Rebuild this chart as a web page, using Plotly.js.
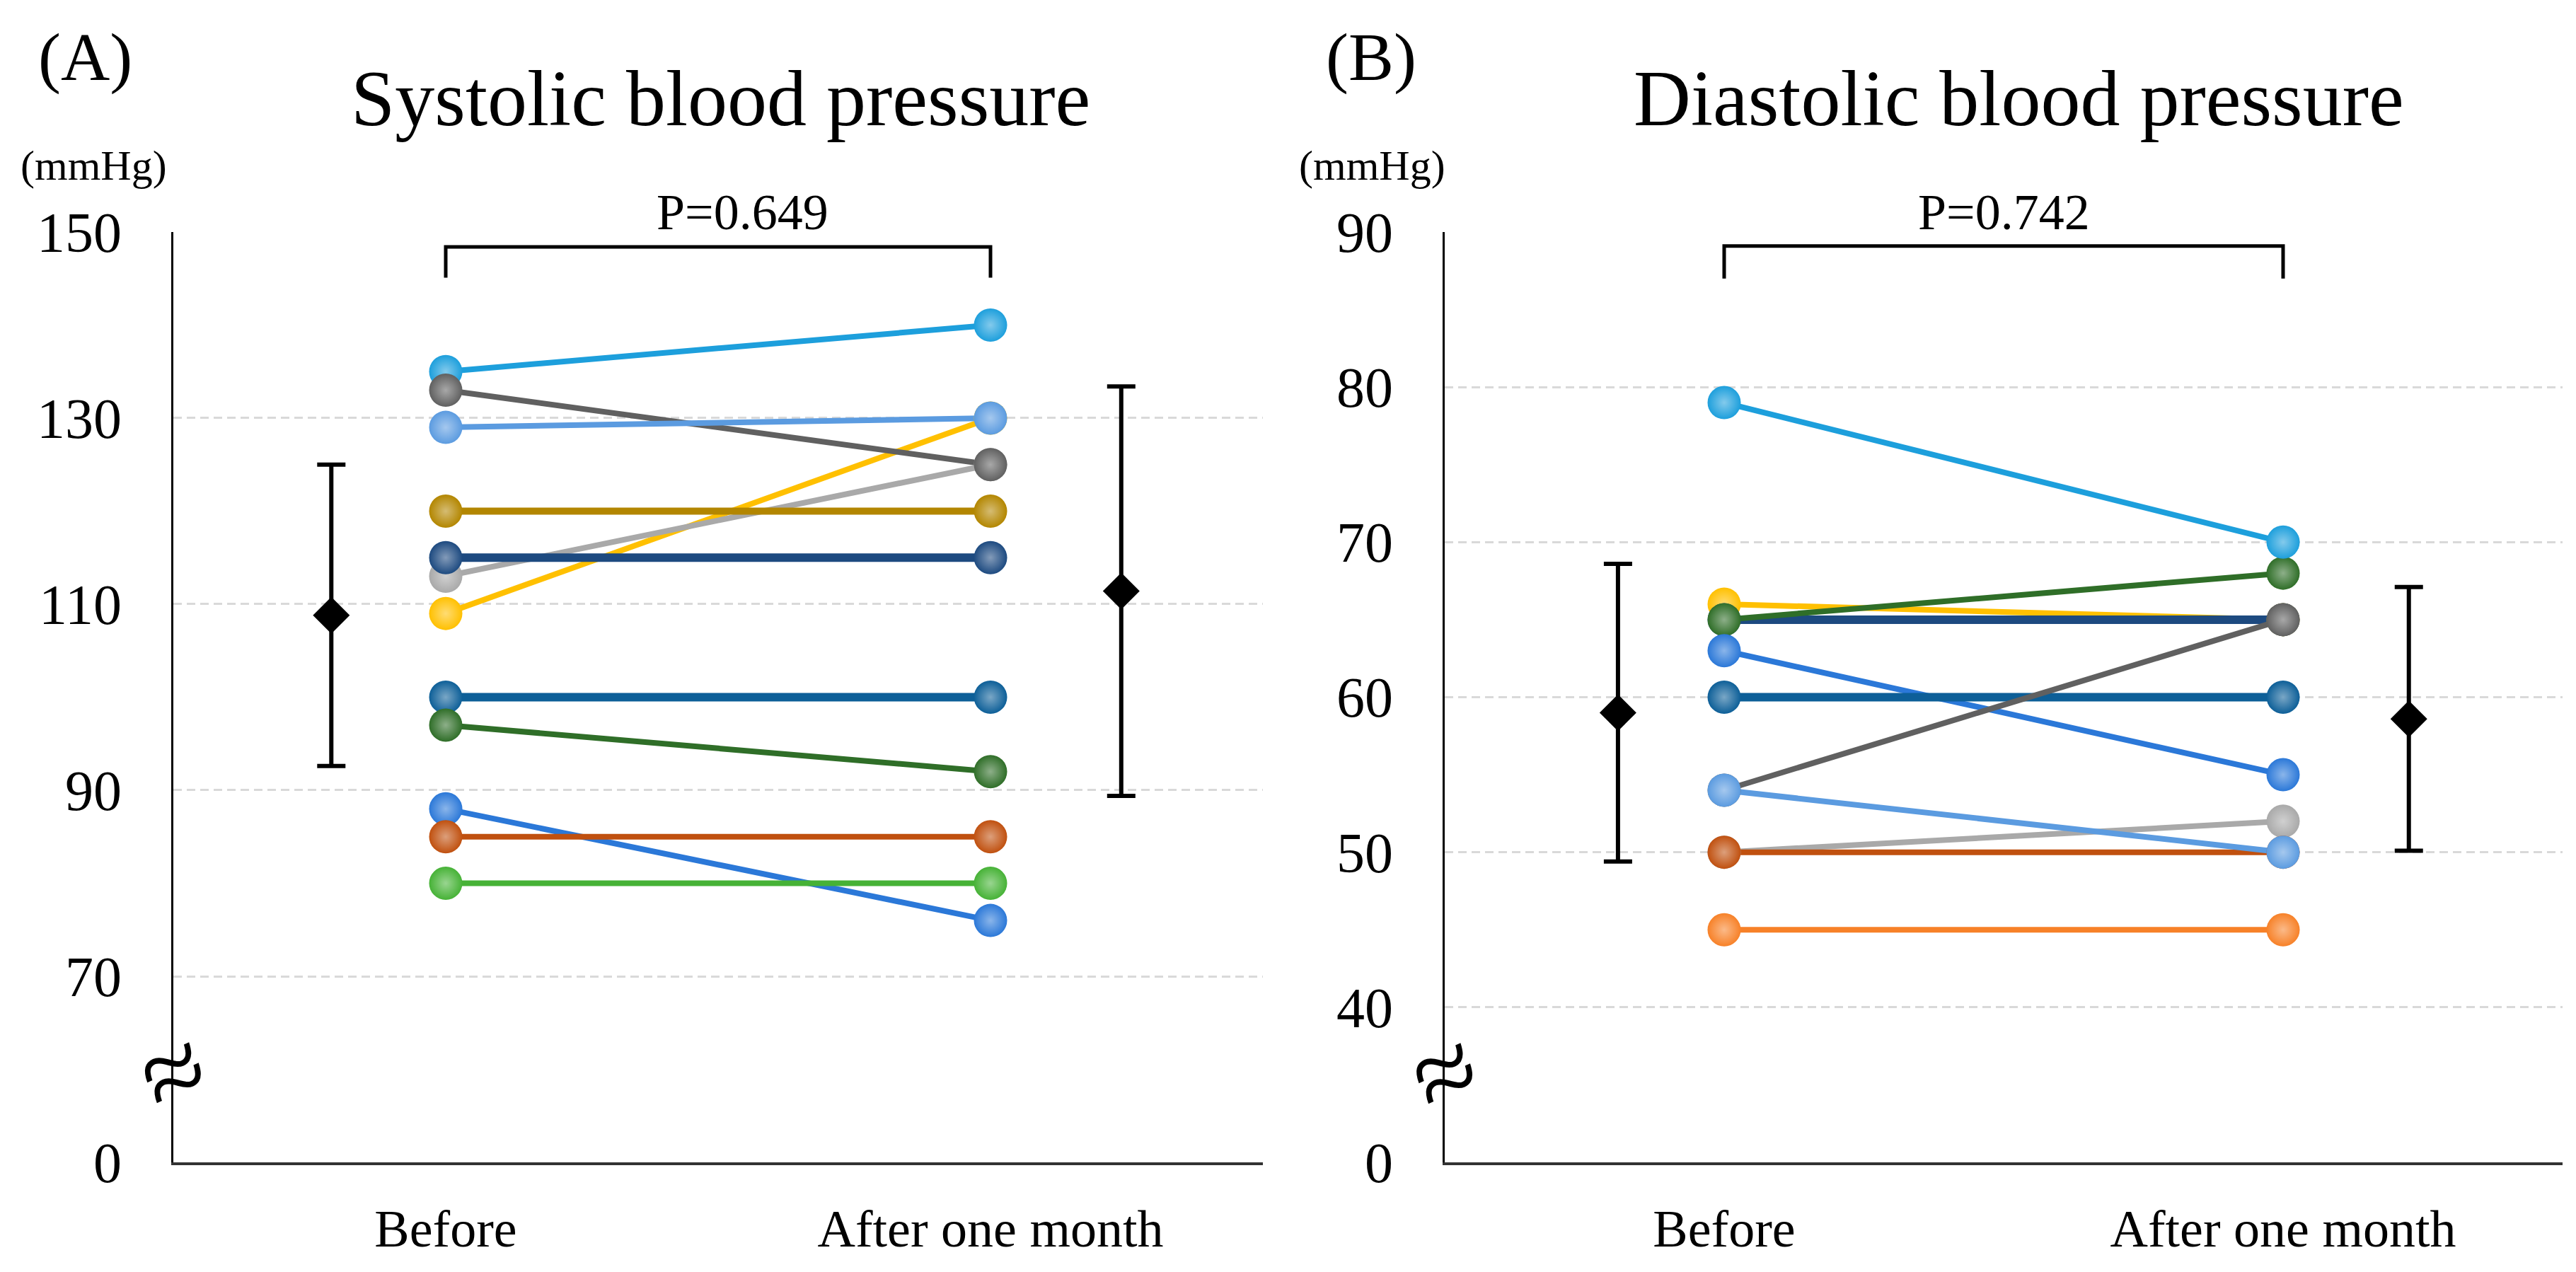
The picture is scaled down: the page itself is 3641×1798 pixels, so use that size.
<!DOCTYPE html>
<html>
<head>
<meta charset="utf-8">
<script src="https://cdn.plot.ly/plotly-3.0.1.min.js"></script>
<style>html,body{margin:0;padding:0;background:#fff;}#chart{width:3641px;height:1798px;}</style>
</head>
<body>
<div id="chart"></div>
<script>
// ---------- DATA ----------
const categories = ['Before', 'After one month'];

// Systolic blood pressure (mmHg), one entry per subject
const sbpSubjects = ['cyan','yellow','lightgray','darkgray','midblue','gold','navy','teal','darkgreen','blue','brown','green'];
const sbpBefore = [135, 109, 113, 133, 129, 120, 115, 100, 97, 88, 85, 80];
const sbpAfter  = [140, 130, 125, 125, 130, 120, 115, 100, 92, 76, 85, 80];
const sbpMean = [108.8, 111.4];
const sbpSD   = [16.2, 22.0];
const sbpP = 'P=0.649';
const sbpTicks = [150, 130, 110, 90, 70, 0];

// Diastolic blood pressure (mmHg)
const dbpSubjects = ['yellow','navy','darkgreen','cyan','blue','teal','lightgray','brown','darkgray','midblue','orange'];
const dbpBefore = [66, 65, 65, 79, 63, 60, 50, 50, 54, 54, 45];
const dbpAfter  = [65, 65, 68, 70, 55, 60, 52, 50, 65, 50, 45];
const dbpMean = [59.0, 58.6];
const dbpSD   = [9.6, 8.5];
const dbpP = 'P=0.742';
const dbpTicks = [90, 80, 70, 60, 50, 40, 0];

// ---------- STYLE ----------
const palette = {
  cyan: '#1d9fdc', yellow: '#ffc000', lightgray: '#a9a9a9', darkgray: '#606060',
  midblue: '#5b9be0', gold: '#b38600', navy: '#1d4a80', teal: '#0d5f98',
  darkgreen: '#2f6e28', blue: '#2b78d8', brown: '#c0500f', green: '#46b236', orange: '#f78128'
};
const widths = {navy: 12, teal: 12, gold: 10};
const FONT = 'Liberation Serif, Times New Roman, serif';
const catX = [1, 2];
const panels = [
  {subj: sbpSubjects, b: sbpBefore, a: sbpAfter, mean: sbpMean, sd: sbpSD, p: sbpP, ticks: sbpTicks,
   axisBottom: 50, axisTop: 150, ex: [0.79, 2.24], pX: 1.545, br: [145.1, 148.4], brk: 59.7,
   xa: 'x', ya: 'y', title: 'Systolic blood pressure', tag: '(A)'},
  {subj: dbpSubjects, b: dbpBefore, a: dbpAfter, mean: dbpMean, sd: dbpSD, p: dbpP, ticks: dbpTicks,
   axisBottom: 30, axisTop: 90, ex: [0.81, 2.225], pX: 1.5, br: [87.0, 89.1], brk: 35.8,
   xa: 'x2', ya: 'y2', title: 'Diastolic blood pressure', tag: '(B)'}
];

function lighten(hex, f) {
  const n = parseInt(hex.slice(1), 16);
  let r = (n >> 16) & 255, g = (n >> 8) & 255, b = n & 255;
  r = Math.round(r + (255 - r) * f); g = Math.round(g + (255 - g) * f); b = Math.round(b + (255 - b) * f);
  return 'rgb(' + r + ',' + g + ',' + b + ')';
}

const traces = [];
const annotations = [];
panels.forEach(P => {
  // lines first
  P.subj.forEach((s, i) => {
    traces.push({type: 'scatter', mode: 'lines', x: catX, y: [P.b[i], P.a[i]], xaxis: P.xa, yaxis: P.ya,
      line: {color: palette[s], width: widths[s] || 8}, hoverinfo: 'skip', showlegend: false});
  });
  // markers on top
  P.subj.forEach((s, i) => {
    traces.push({type: 'scatter', mode: 'markers', x: catX, y: [P.b[i], P.a[i]], xaxis: P.xa, yaxis: P.ya,
      marker: {color: palette[s], size: 47, line: {width: 0}, gradient: {type: 'radial', color: lighten(palette[s], 0.45)}},
      showlegend: false});
  });
  // mean ± SD
  traces.push({type: 'scatter', mode: 'markers', x: P.ex, y: P.mean, xaxis: P.xa, yaxis: P.ya,
    marker: {symbol: 'diamond', size: 40, color: '#000'},
    error_y: {type: 'data', array: P.sd, visible: true, color: '#000', thickness: 6, width: 20},
    showlegend: false});
  // bracket
  traces.push({type: 'scatter', mode: 'lines', x: [catX[0], catX[0], catX[1], catX[1]], y: [P.br[0], P.br[1], P.br[1], P.br[0]],
    xaxis: P.xa, yaxis: P.ya, line: {color: '#000', width: 5}, hoverinfo: 'skip', showlegend: false});
  // p value
  annotations.push({xref: P.xa, yref: P.ya, x: P.pX, y: P.axisTop, text: P.p, showarrow: false,
    yanchor: 'bottom', yshift: -14, font: {family: FONT, size: 72, color: '#000'}});
  // axis break
  annotations.push({xref: P.xa, yref: P.ya, x: 0.5, y: P.brk, text: '≈', showarrow: false, textangle: -25,
    font: {family: FONT, size: 160, color: '#000'}, xanchor: 'center', yanchor: 'middle'});
});

// titles / tags / units
const titleX = [1018 / 3641, 2853 / 3641];
const tagX = [52 / 3641, 1872 / 3641];
const unitX = [27 / 3641, 1834 / 3641];
panels.forEach((P, k) => {
  annotations.push({xref: 'paper', yref: 'paper', x: titleX[k], y: 0.9227, text: P.title, showarrow: false,
    xanchor: 'center', yanchor: 'middle', font: {family: FONT, size: 112, color: '#000'}});
  annotations.push({xref: 'paper', yref: 'paper', x: tagX[k], y: 0.9552, text: P.tag, showarrow: false,
    xanchor: 'left', yanchor: 'middle', font: {family: FONT, size: 96, color: '#000'}});
  annotations.push({xref: 'paper', yref: 'paper', x: unitX[k], y: 0.8699, text: '(mmHg)', showarrow: false,
    xanchor: 'left', yanchor: 'middle', font: {family: FONT, size: 60, color: '#000'}});
});

function tickPos(P) {
  // the lowest label (0) sits at the bottom of the broken axis
  return P.ticks.map((t, i) => i === P.ticks.length - 1 ? P.axisBottom : t);
}

function xAxis(domain, anchor) {
  return {domain: domain, anchor: anchor, range: [0.5, 2.5], tickvals: catX, ticktext: categories,
    showline: true, linecolor: '#333', linewidth: 4, showgrid: false, zeroline: false, ticks: '',
    ticklabelstandoff: 26, tickfont: {family: FONT, size: 74, color: '#000'}, fixedrange: true};
}
function yAxis(P, anchor) {
  return {domain: [0.0862, 0.8176], anchor: anchor, range: [P.axisBottom, P.axisTop],
    tickvals: tickPos(P), ticktext: P.ticks.map(String), showline: true, linecolor: '#000', linewidth: 3,
    showgrid: true, gridcolor: '#d9d9d9', gridwidth: 3, griddash: '12px,7px', zeroline: false, ticks: '',
    ticklabelstandoff: 54, tickfont: {family: FONT, size: 80, color: '#000'}, fixedrange: true};
}

const layout = {
  width: 3641, height: 1798,
  margin: {l: 0, r: 0, t: 0, b: 0},
  paper_bgcolor: '#fff', plot_bgcolor: '#fff',
  showlegend: false,
  xaxis: xAxis([245 / 3641, 1785 / 3641], 'y'),
  yaxis: yAxis(panels[0], 'x'),
  xaxis2: xAxis([2042 / 3641, 3622 / 3641], 'y2'),
  yaxis2: yAxis(panels[1], 'x2'),
  annotations: annotations
};

Plotly.newPlot('chart', traces, layout, {staticPlot: true});
</script>
</body>
</html>
